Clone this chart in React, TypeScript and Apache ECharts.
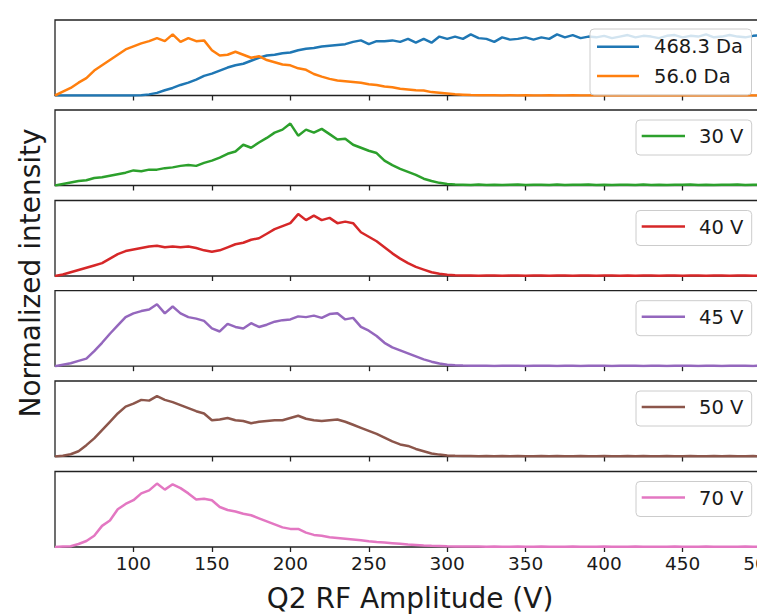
import React, { useEffect, useRef } from "react";
import * as echarts from "echarts";

// x grid: Q2 RF amplitude (V), 50..500 in 5 V steps
const voltages: number[] = Array.from({ length: 91 }, (_, i) => 50 + 5 * i);
const xTicks = [100, 150, 200, 250, 300, 350, 400, 450, 500];

const da468 = [
  0, 0, 0, 0, 0, 0, 0, 0, 0, 0,
  0.0, 0.003, 0.015, 0.035, 0.07, 0.1, 0.14, 0.17, 0.21, 0.26,
  0.29, 0.33, 0.37, 0.4, 0.42, 0.46, 0.5, 0.53, 0.54, 0.56,
  0.57, 0.6, 0.62, 0.63, 0.65, 0.66, 0.67, 0.68, 0.71, 0.73,
  0.68, 0.72, 0.72, 0.73, 0.71, 0.75, 0.7, 0.75, 0.7, 0.78,
  0.75, 0.78, 0.75, 0.81, 0.76, 0.75, 0.71, 0.77, 0.74, 0.75,
  0.77, 0.74, 0.77, 0.75, 0.81, 0.77, 0.8, 0.76, 0.78, 0.77,
  0.79, 0.76, 0.78, 0.8, 0.77, 0.79, 0.78, 0.76, 0.79, 0.8,
  0.77, 0.79, 0.78, 0.81, 0.77, 0.78, 0.8, 0.78, 0.77, 0.79,
  0.8,
];
const da56 = [
  0, 0.05, 0.1, 0.17, 0.23, 0.33, 0.4, 0.47, 0.54, 0.61,
  0.65, 0.69, 0.72, 0.76, 0.72, 0.81, 0.71, 0.76, 0.72, 0.73,
  0.6, 0.53, 0.54, 0.58, 0.54, 0.5, 0.52, 0.47, 0.44, 0.41,
  0.4, 0.36, 0.34, 0.285, 0.25, 0.22, 0.2, 0.19, 0.18, 0.17,
  0.15, 0.14, 0.12, 0.11, 0.09, 0.08, 0.07, 0.065, 0.045, 0.035,
  0.025, 0.015, 0.01, 0.005, 0.003, 0.002, 0.002, 0.001, 0.002, 0.001,
  0.002, 0.001, 0.001, 0.002, 0.001, 0.001, 0.002, 0.001, 0.001, 0.002,
  0.001, 0.001, 0.002, 0.001, 0.001, 0.001, 0.002, 0.001, 0.001, 0.001,
  0.001, 0.002, 0.001, 0.001, 0.001, 0.001, 0.002, 0.001, 0.001, 0.001,
  0.001,
];
const v30 = [
  0, 0.02, 0.04, 0.06, 0.07, 0.1, 0.11, 0.13, 0.15, 0.17,
  0.2, 0.19, 0.21, 0.21, 0.23, 0.24, 0.26, 0.27, 0.26, 0.3,
  0.33, 0.37, 0.42, 0.45, 0.54, 0.5, 0.57, 0.63, 0.7, 0.74,
  0.82, 0.66, 0.74, 0.7, 0.75, 0.68, 0.61, 0.62, 0.54, 0.5,
  0.46, 0.43, 0.33, 0.27, 0.22, 0.18, 0.14, 0.09, 0.06, 0.035,
  0.02, 0.012, 0.01, 0.007, 0.012, 0.008, 0.011, 0.006, 0.01, 0.013,
  0.007, 0.009, 0.011, 0.008, 0.012, 0.006, 0.01, 0.009, 0.013, 0.007,
  0.01, 0.008, 0.011, 0.009, 0.006, 0.012, 0.008, 0.01, 0.007, 0.011,
  0.009, 0.012, 0.008, 0.01, 0.006, 0.011, 0.009, 0.012, 0.007, 0.01,
  0.008,
];
const v40 = [
  0, 0.02, 0.05, 0.08, 0.11, 0.14, 0.17, 0.23, 0.29, 0.33,
  0.35, 0.37, 0.39, 0.4, 0.38, 0.39, 0.38, 0.39, 0.37, 0.34,
  0.32, 0.34, 0.38, 0.42, 0.44, 0.48, 0.5, 0.56, 0.62, 0.66,
  0.7, 0.82, 0.74, 0.8, 0.74, 0.77, 0.7, 0.72, 0.7, 0.58,
  0.52, 0.46, 0.38, 0.3, 0.23, 0.17, 0.12, 0.085, 0.05, 0.03,
  0.018, 0.01, 0.006, 0.005, 0.004, 0.006, 0.005, 0.004, 0.005, 0.006,
  0.004, 0.005, 0.005, 0.004, 0.006, 0.005, 0.004, 0.005, 0.005, 0.004,
  0.005, 0.006, 0.004, 0.005, 0.004, 0.005, 0.006, 0.004, 0.005, 0.005,
  0.004, 0.005, 0.006, 0.004, 0.005, 0.005, 0.004, 0.006, 0.005, 0.004,
  0.005,
];
const v45 = [
  0, 0.02, 0.04, 0.07, 0.1, 0.2, 0.31, 0.43, 0.54, 0.65,
  0.7, 0.73, 0.75, 0.82, 0.7, 0.79, 0.7, 0.65, 0.63, 0.6,
  0.5, 0.46, 0.56, 0.52, 0.5, 0.57, 0.52, 0.55, 0.59, 0.61,
  0.62, 0.66, 0.65, 0.67, 0.64, 0.69, 0.7, 0.62, 0.64, 0.52,
  0.47, 0.4, 0.31, 0.25, 0.21, 0.17, 0.13, 0.09, 0.06, 0.035,
  0.02, 0.012, 0.008, 0.006, 0.005, 0.006, 0.004, 0.005, 0.006, 0.005,
  0.004, 0.006, 0.005, 0.005, 0.004, 0.006, 0.005, 0.004, 0.005, 0.006,
  0.005, 0.004, 0.006, 0.005, 0.005, 0.004, 0.005, 0.006, 0.004, 0.005,
  0.006, 0.005, 0.004, 0.005, 0.006, 0.004, 0.005, 0.005, 0.006, 0.004,
  0.005,
];
const v50 = [
  0, 0.01, 0.03, 0.07, 0.15, 0.24, 0.35, 0.46, 0.57, 0.66,
  0.7, 0.75, 0.74, 0.8, 0.75, 0.72, 0.68, 0.64, 0.6, 0.57,
  0.48, 0.49, 0.51, 0.48, 0.47, 0.44, 0.46, 0.47, 0.48, 0.48,
  0.51, 0.54, 0.5, 0.48, 0.47, 0.48, 0.49, 0.46, 0.42, 0.38,
  0.34, 0.3, 0.25, 0.2, 0.16, 0.14, 0.1, 0.07, 0.04, 0.025,
  0.014, 0.009, 0.006, 0.005, 0.004, 0.005, 0.004, 0.005, 0.004, 0.005,
  0.004, 0.004, 0.005, 0.004, 0.005, 0.004, 0.004, 0.005, 0.004, 0.004,
  0.005, 0.004, 0.004, 0.005, 0.004, 0.005, 0.004, 0.004, 0.005, 0.004,
  0.004, 0.005, 0.004, 0.004, 0.005, 0.004, 0.005, 0.004, 0.004, 0.005,
  0.004,
];
const v70 = [
  0, 0.005, 0.01, 0.04, 0.08, 0.15, 0.28, 0.35, 0.5, 0.57,
  0.62, 0.71, 0.75, 0.84, 0.76, 0.83, 0.78, 0.71, 0.63, 0.64,
  0.62, 0.53, 0.49, 0.47, 0.44, 0.42, 0.38, 0.34, 0.3, 0.26,
  0.24, 0.24, 0.19, 0.16, 0.15, 0.13, 0.12, 0.11, 0.1, 0.09,
  0.075, 0.065, 0.058, 0.05, 0.042, 0.032, 0.027, 0.02, 0.015, 0.012,
  0.009, 0.007, 0.006, 0.005, 0.005, 0.004, 0.005, 0.004, 0.004, 0.005,
  0.004, 0.004, 0.005, 0.004, 0.004, 0.004, 0.005, 0.004, 0.004, 0.004,
  0.005, 0.004, 0.004, 0.004, 0.005, 0.004, 0.004, 0.004, 0.004, 0.005,
  0.004, 0.004, 0.004, 0.005, 0.004, 0.004, 0.004, 0.004, 0.005, 0.004,
  0.004,
];

const panels = [
  [
    { name: "468.3 Da", values: da468, color: "#1f77b4" },
    { name: "56.0 Da", values: da56, color: "#ff7f0e" },
  ],
  [{ name: "30 V", values: v30, color: "#2ca02c" }],
  [{ name: "40 V", values: v40, color: "#d62728" }],
  [{ name: "45 V", values: v45, color: "#9467bd" }],
  [{ name: "50 V", values: v50, color: "#8c564b" }],
  [{ name: "70 V", values: v70, color: "#e377c2" }],
];

const FONT = "'DejaVu Sans', sans-serif";
const TEXT = "#1a1a1a";
const PANEL_TOPS = [20, 110, 200.5, 290.7, 381, 471.5];
const PANEL_H = 75.5;
const LEFT = 55;
const WIDTH = 706;

function buildOption() {
  const grid: any[] = [];
  const xAxis: any[] = [];
  const yAxis: any[] = [];
  const series: any[] = [];
  const graphic: any[] = [];

  panels.forEach((panel, i) => {
    const top = PANEL_TOPS[i];
    grid.push({
      left: LEFT,
      top,
      width: WIDTH,
      height: PANEL_H,
      show: true,
      borderColor: "#222",
      borderWidth: 1.3,
      backgroundColor: "transparent",
      containLabel: false,
      outerBoundsMode: "none",
    });
    xAxis.push({
      type: "value",
      gridIndex: i,
      min: 50,
      max: 500,
      axisLine: { show: false },
      splitLine: { show: false },
      axisTick: {
        show: true,
        length: 5,
        customValues: xTicks,
        lineStyle: { color: "#222", width: 1.3 },
      },
      axisLabel: {
        show: i === panels.length - 1,
        customValues: xTicks,
        fontSize: 18.5,
        fontFamily: FONT,
        color: TEXT,
        margin: 7,
      },
    });
    yAxis.push({
      type: "value",
      gridIndex: i,
      min: 0,
      max: 1,
      axisLine: { show: false },
      axisTick: { show: false },
      axisLabel: { show: false },
      splitLine: { show: false },
    });
    panel.forEach((s) => {
      series.push({
        type: "line",
        name: s.name,
        xAxisIndex: i,
        yAxisIndex: i,
        data: voltages.map((v, k) => [v, s.values[k]]),
        symbol: "none",
        showSymbol: false,
        lineStyle: { color: s.color, width: 2.5 },
        itemStyle: { color: s.color },
        z: 3,
      });
    });

    // legend box
    if (panel.length === 2) {
      const bx = 590, by = 29, bw = 161.5, bh = 66;
      graphic.push({
        type: "rect",
        z: 100,
        shape: { x: bx, y: by, width: bw, height: bh, r: 4 },
        style: { fill: "rgba(255,255,255,0.8)", stroke: "#cccccc", lineWidth: 1 },
      });
      const rows = [46.7, 76];
      panel.forEach((s, k) => {
        graphic.push({
          type: "line",
          z: 101,
          shape: { x1: 597, y1: rows[k], x2: 639, y2: rows[k] },
          style: { stroke: s.color, lineWidth: 2.5 },
        });
        graphic.push({
          type: "text",
          z: 101,
          x: 654,
          y: rows[k],
          style: {
            text: s.name,
            fontSize: 19.5,
            fontFamily: FONT,
            fill: TEXT,
            verticalAlign: "middle",
            align: "left",
          },
        });
      });
    } else {
      const s = panel[0];
      const by = top + 10;
      graphic.push({
        type: "rect",
        z: 100,
        shape: { x: 636, y: by, width: 115.7, height: 35, r: 4 },
        style: { fill: "rgba(255,255,255,0.8)", stroke: "#cccccc", lineWidth: 1 },
      });
      graphic.push({
        type: "line",
        z: 101,
        shape: { x1: 641.7, y1: top + 26, x2: 685, y2: top + 26 },
        style: { stroke: s.color, lineWidth: 2.5 },
      });
      graphic.push({
        type: "text",
        z: 101,
        x: 699,
        y: top + 26.5,
        style: {
          text: s.name,
          fontSize: 19.5,
          fontFamily: FONT,
          fill: TEXT,
          verticalAlign: "middle",
          align: "left",
        },
      });
    }
  });

  graphic.push({
    type: "text",
    z: 101,
    x: 410,
    y: 598,
    style: {
      text: "Q2 RF Amplitude (V)",
      fontSize: 28,
      fontFamily: FONT,
      fill: TEXT,
      align: "center",
      verticalAlign: "middle",
    },
  });
  graphic.push({
    type: "text",
    z: 101,
    x: 30,
    y: 273,
    rotation: Math.PI / 2,
    style: {
      text: "Normalized intensity",
      fontSize: 28,
      fontFamily: FONT,
      fill: TEXT,
      align: "center",
      verticalAlign: "middle",
    },
  });

  return {
    animation: false,
    backgroundColor: "#ffffff",
    grid,
    xAxis,
    yAxis,
    series,
    graphic,
  };
}

export default function App() {
  const ref = useRef<HTMLDivElement>(null);
  useEffect(() => {
    if (!ref.current) return;
    const chart = echarts.init(ref.current, null, { renderer: "svg" });
    chart.setOption(buildOption() as any);
    return () => chart.dispose();
  }, []);
  return (
    <div
      ref={ref}
      style={{ position: "fixed", left: 0, top: 0, width: 757, height: 614, overflow: "hidden" }}
    />
  );
}
